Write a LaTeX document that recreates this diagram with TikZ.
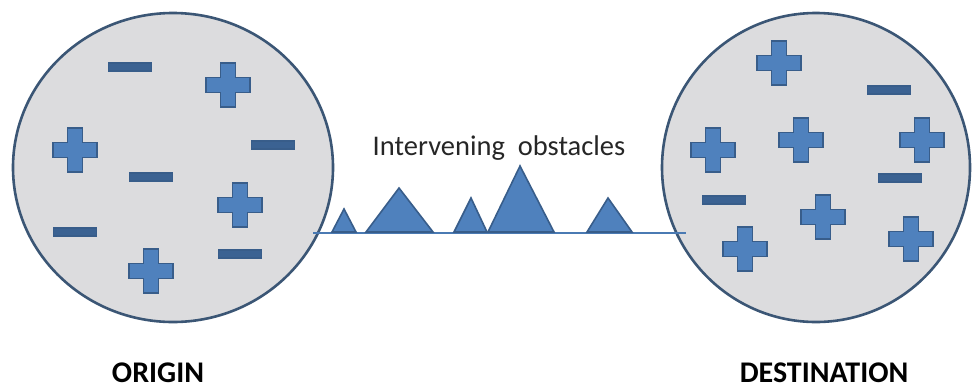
\documentclass[tikz,border=0pt]{standalone}
\usepackage{fontspec}
\setmainfont{Carlito}
\usetikzlibrary{shapes.geometric}
\definecolor{cfill}{HTML}{DCDCDE}
\definecolor{cedge}{HTML}{3B5675}
\definecolor{cblue}{HTML}{4F81BD}
\definecolor{cdark}{HTML}{385D8A}
\tikzset{
  x=1pt,y=-1pt,
  ball/.style={ellipse,draw=cedge,line width=2.6pt,fill=cfill,inner sep=0pt},
  obst/.style={fill=cblue,draw=cdark,line width=1.6pt,line join=miter},
  pic charge/.style={fill=cblue,draw=cdark,line width=1.3pt},
  pics/chplus/.style={code={
    \path[pic charge] (-7.5,-22)--(7.5,-22)--(7.5,-7.5)--(22,-7.5)--(22,7.5)--(7.5,7.5)--(7.5,22)--(-7.5,22)--(-7.5,7.5)--(-22,7.5)--(-22,-7.5)--(-7.5,-7.5)--cycle;}},
  pics/chminus/.style={code={
    \path[pic charge,fill=cdark!85!cblue] (-21.5,-4)rectangle(21.5,4);}},
  lbl/.style={font=\fontsize{30}{30}\selectfont\bfseries,text=black,inner sep=0pt,text depth=0pt},
}
\begin{document}
\begin{tikzpicture}
\useasboundingbox (0,0) rectangle (973,389);
% connector line
\coordinate (lineL) at (313,233);
\coordinate (lineR) at (686,233);
\node[ball,minimum width=320pt,minimum height=309pt] (origin) at (173,167.5) {};
\node[ball,minimum width=308pt,minimum height=309pt] (dest) at (816,167.5) {};
\draw[cblue!80!cdark,line width=2.2pt] (lineL) -- (lineR);
% obstacles
\path[obst] (332,232)--(344,209)--(356,232)--cycle;
\path[obst] (366,232)--(399,188)--(433,232)--cycle;
\path[obst] (454,232)--(471,198)--(487,232)--cycle;
\path[obst] (488,232)--(520,166)--(554,232)--cycle;
\path[obst] (587,232)--(608,198)--(632,232)--cycle;
\node[font=\fontsize{28.5}{28.5}\selectfont,text=black!85,anchor=base] (obsttxt) at (499,155) {Intervening\ \ obstacles};
% origin charges
\pic (om1) at (130,67) {chminus};
\pic (op1) at (228,85) {chplus};
\pic (op2) at (75,150) {chplus};
\pic (om2) at (273,145) {chminus};
\pic (om3) at (151,177) {chminus};
\pic (op3) at (240,205) {chplus};
\pic (om4) at (75,232) {chminus};
\pic (op4) at (151,271) {chplus};
\pic (om5) at (240,254) {chminus};
% destination charges
\pic (dp1) at (779,63) {chplus};
\pic (dm1) at (889,90) {chminus};
\pic (dp2) at (713,150) {chplus};
\pic (dp3) at (801,140) {chplus};
\pic (dp4) at (922,140) {chplus};
\pic (dm2) at (900,178) {chminus};
\pic (dm3) at (724,200) {chminus};
\pic (dp5) at (823,217) {chplus};
\pic (dp6) at (745,249) {chplus};
\pic (dp7) at (911,239) {chplus};
% labels
\node[lbl,anchor=base] (olbl) at (158,382) {ORIGIN};
\node[lbl,anchor=base] (dlbl) at (824,382) {DESTINATION};
\end{tikzpicture}
\end{document}
